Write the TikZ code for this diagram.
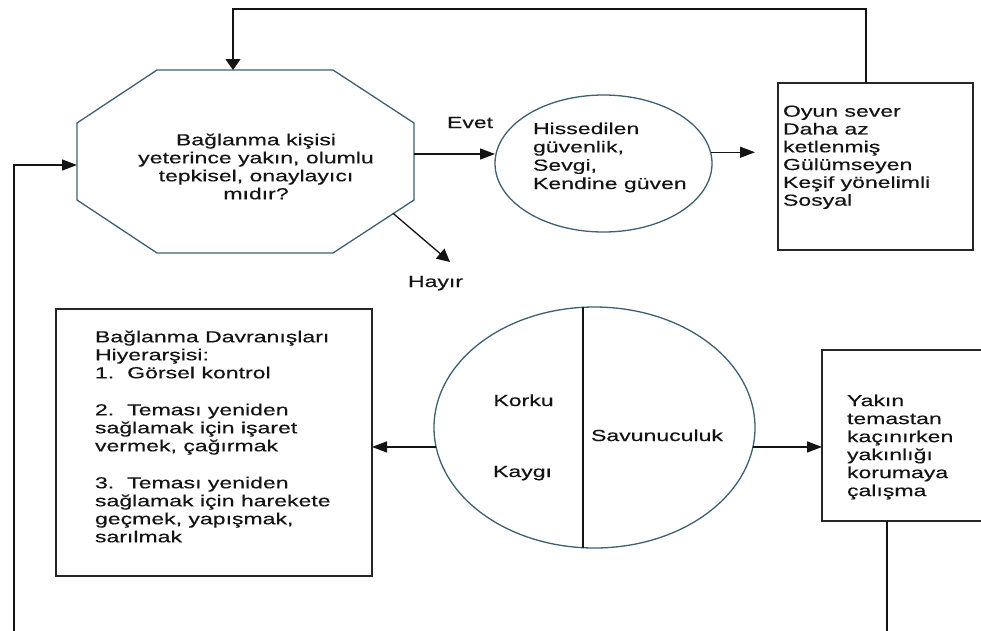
\documentclass[tikz,border=0pt]{standalone}
\usepackage{fontspec}
\setmainfont{Liberation Sans}[FakeStretch=1.44,FakeBold=0.3]
\usetikzlibrary{arrows.meta,calc,shapes.geometric}
\definecolor{outl}{RGB}{62,96,114}
\definecolor{ink}{RGB}{20,20,20}
\begin{document}
\begin{tikzpicture}[x=1pt,y=-1pt,
  every node/.style={inner sep=0pt, outer sep=0pt, text=ink},
  txt/.style={font=\fontsize{16}{18}\selectfont, align=left},
  shapeline/.style={draw=outl, line width=1.3pt},
  boxline/.style={draw=black!85, line width=1.5pt},
  conn/.style={draw=ink, line width=1.3pt},
  arrh/.style={conn, -{Triangle[length=15pt,width=11pt]}},
  arrv/.style={conn, -{Triangle[length=11pt,width=15pt]}},
  arrd/.style={conn, -{Triangle[length=13pt,width=13pt]}}
]
\clip (0,0) rectangle (981,630);
\fill[white] (0,0) rectangle (981,630);

% octagon decision
\node[minimum width=337pt, minimum height=183pt] (oct) at (245.5,161.5) {};
\draw[shapeline] ($(oct.north west)+(80,0)$) -- ($(oct.north east)+(-81,0)$)
  -- ($(oct.north east)+(0,53)$) -- ($(oct.south east)+(0,-53)$)
  -- ($(oct.south east)+(-81,0)$) -- ($(oct.south west)+(80,0)$)
  -- ($(oct.south west)+(0,-53)$) -- ($(oct.north west)+(0,53)$) -- cycle;
\node[txt, align=center, anchor=north] (octt) at (256,133.5)
  {Bağlanma kişisi\\yeterince yakın, olumlu\\tepkisel, onaylayıcı\\mıdır?};

% ellipse
\node[ellipse, shapeline, minimum width=217pt, minimum height=137pt] (ell) at (603.5,163.5) {};
\node[txt, font=\fontsize{16}{18.3}\selectfont, anchor=north west] (ellt) at (533,122.5)
  {Hissedilen\\güvenlik,\\Sevgi,\\Kendine güven};

% box 1
\node[boxline, minimum width=195pt, minimum height=167pt] (box1) at (875.5,166.5) {};
\node[txt, font=\fontsize{16}{17.8}\selectfont, anchor=north west] (box1t) at (783,105.5)
  {Oyun sever\\Daha az\\ketlenmiş\\Gülümseyen\\Keşif yönelimli\\Sosyal};

% box 2
\node[boxline, minimum width=316pt, minimum height=267pt] (box2) at (214,442.5) {};
\node[txt, anchor=north west] (box2t) at (95,330.5)
  {Bağlanma Davranışları\\Hiyerarşisi:\\1.\hspace{13pt}Görsel kontrol\\[19pt]2.\hspace{13pt}Teması yeniden\\sağlamak için işaret\\vermek, çağırmak\\[19pt]3.\hspace{13pt}Teması yeniden\\sağlamak için harekete\\geçmek, yapışmak,\\sarılmak};

% circle
\node[ellipse, shapeline, minimum width=321pt, minimum height=241pt] (circ) at (594.5,427.5) {};
\draw[conn] ([xshift=-11.5pt]circ.north) -- ([xshift=-11.5pt]circ.south);
\node[txt, anchor=base] (korku) at (523.5,406) {Korku};
\node[txt, anchor=base] (kaygi) at (522.5,477) {Kaygı};
\node[txt, anchor=base] (savun) at (657,441) {Savunuculuk};

% box 3
\node[boxline, minimum width=168pt, minimum height=171pt] (box3) at (906,435.5) {};
\node[txt, anchor=north west] (box3t) at (847,394.5)
  {Yakın\\temastan\\kaçınırken\\yakınlığı\\korumaya\\çalışma};

% connectors
\coordinate (o1) at ([yshift=7.5pt]oct.east);
\draw[arrh] (o1) -- (o1 -| ell.west);
\node[txt, anchor=base] (evet) at (470,128) {Evet};

\coordinate (e2) at (755,0);
\draw[arrh] (ell.6) -- (ell.6 -| e2);

\coordinate (tl) at (233,9);
\draw[arrv] ([xshift=-9.5pt]box1.north) |- (tl) -- (tl |- oct.north);

\coordinate (hs) at ($(oct.south east)+(-21,-39.7)$);
\coordinate (he) at (450,262);
\draw[arrd] (hs) -- (he);
\node[txt, anchor=base] (hayir) at (435.5,287) {Hayır};

\coordinate (lb) at (14,640);
\draw[arrh] (lb) |- ([yshift=-3.5pt]oct.west);

\draw[arrh] (circ.187.75) -- (circ.187.75 -| box2.east);
\draw[arrh] (circ.-7.75) -- (circ.-7.75 -| box3.west);

\coordinate (rb) at (887,640);
\draw[conn] ([xshift=-19pt]box3.south) -- (rb);
\end{tikzpicture}
\end{document}
